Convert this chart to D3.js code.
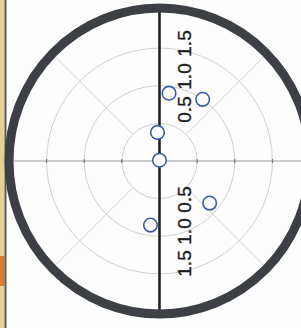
<!DOCTYPE html>
<html>
<head>
<meta charset="utf-8">
<script src="https://cdn.jsdelivr.net/npm/d3@7"></script>
<style>
  body { margin: 0; background: #fdfdfd; }
  svg { display: block; }
</style>
</head>
<body>
<svg width="301" height="328"></svg>
<script>
// polar data: angle in degrees, clockwise from the top; radius in plot units
var angles = [8, 35, 356, 0, 130, 188];
var radii  = [0.91, 1.0, 0.38, 0.01, 0.87, 0.86];
// ring values and their labels
var rings = [0.5, 1.0, 1.5];
var ringLabels = ["0.5", "1.0", "1.5"];
var spokes = [45, 135, 225, 315];
var rMax = 2;

var drawPolar = function()
{
  let svg = d3.select("svg");
  let cx = 159.5, cy = 161;

  // left edge strip of the page
  svg.append("rect").attr("x", 0).attr("y", 0).attr("width", 4.5).attr("height", 328)
    .attr("fill", "#e9d08f");
  svg.append("rect").attr("x", 0).attr("y", 256).attr("width", 4.5).attr("height", 30)
    .attr("fill", "#e27a2c");
  svg.append("rect").attr("x", 4.5).attr("y", 0).attr("width", 2).attr("height", 328)
    .attr("fill", "#5a5a5a");

  //radius scale
  let rScale = d3.scaleLinear().domain([0, rMax]).range([0, 150.5]);

  let plot = svg.append("g").attr("id", "plot")
    .attr("transform", "translate(" + cx + "," + cy + ")");

  // rings
  plot.selectAll("circle.ring").data(rings).enter().append("circle")
    .attr("class", "ring")
    .attr("r", function(d) { return rScale(d); })
    .attr("fill", "none")
    .attr("stroke", "#c4c4c4")
    .attr("stroke-width", 0.8);

  // diagonal spokes from the first ring to the outer edge
  plot.selectAll("line.spoke").data(spokes).enter().append("line")
    .attr("class", "spoke")
    .attr("x1", function(d) { return rScale(0.5) * Math.sin(d * Math.PI / 180); })
    .attr("y1", function(d) { return -rScale(0.5) * Math.cos(d * Math.PI / 180); })
    .attr("x2", function(d) { return rScale(rMax) * Math.sin(d * Math.PI / 180); })
    .attr("y2", function(d) { return -rScale(rMax) * Math.cos(d * Math.PI / 180); })
    .attr("stroke", "#c4c4c4")
    .attr("stroke-width", 0.8);

  // horizontal line
  plot.append("line")
    .attr("x1", -rScale(rMax)).attr("x2", rScale(rMax))
    .attr("y1", 0).attr("y2", 0)
    .attr("stroke", "#9a9a9a").attr("stroke-width", 1);

  // small ticks where the rings cross the horizontal
  let tickVals = rings.concat(rings.map(function(d) { return -d; }));
  plot.selectAll("line.htick").data(tickVals).enter().append("line")
    .attr("class", "htick")
    .attr("x1", function(d) { return d < 0 ? -rScale(-d) : rScale(d); })
    .attr("x2", function(d) { return d < 0 ? -rScale(-d) : rScale(d); })
    .attr("y1", -2).attr("y2", 2)
    .attr("stroke", "#666").attr("stroke-width", 1);

  // vertical axis
  plot.append("line")
    .attr("x1", 0).attr("x2", 0)
    .attr("y1", -rScale(rMax) - 2).attr("y2", rScale(rMax) + 2)
    .attr("stroke", "#222").attr("stroke-width", 2.6);

  // outer frame
  plot.append("ellipse")
    .attr("rx", rScale(rMax)).attr("ry", rScale(rMax) + 2.5)
    .attr("fill", "none")
    .attr("stroke", "#3c3f43")
    .attr("stroke-width", 9);

  // ring labels, rotated, above and below the centre
  let labelUp = d3.scaleLinear().domain([0.5, 1.5]).range([-51.5, -117.5]);
  let labelDown = d3.scaleLinear().domain([0.5, 1.5]).range([38.5, 102.5]);
  let labelData = [];
  rings.forEach(function(v, i) {
    labelData.push({ y: labelUp(v), t: ringLabels[i] });
    labelData.push({ y: labelDown(v), t: ringLabels[i] });
  });
  plot.selectAll("text.rlabel").data(labelData).enter().append("text")
    .attr("class", "rlabel")
    .attr("transform", function(d) { return "translate(31," + d.y + ") rotate(-90)"; })
    .attr("text-anchor", "middle")
    .attr("font-family", "'Liberation Sans', Arial, sans-serif")
    .attr("font-size", "19px")
    .attr("fill", "#1c1c1c")
    .attr("stroke", "#1c1c1c")
    .attr("stroke-width", 0.35)
    .text(function(d) { return d.t; });

  // points
  let pts = angles.map(function(a, i) { return { a: a, r: radii[i] }; });
  plot.selectAll("circle.pt").data(pts).enter().append("circle")
    .attr("class", "pt")
    .attr("cx", function(d) { return rScale(d.r) * Math.sin(d.a * Math.PI / 180); })
    .attr("cy", function(d) { return -rScale(d.r) * Math.cos(d.a * Math.PI / 180); })
    .attr("r", 6.8)
    .attr("fill", "#fff")
    .attr("stroke", "#3b5ca8")
    .attr("stroke-width", 1.6);
};

drawPolar();
</script>
</body>
</html>
